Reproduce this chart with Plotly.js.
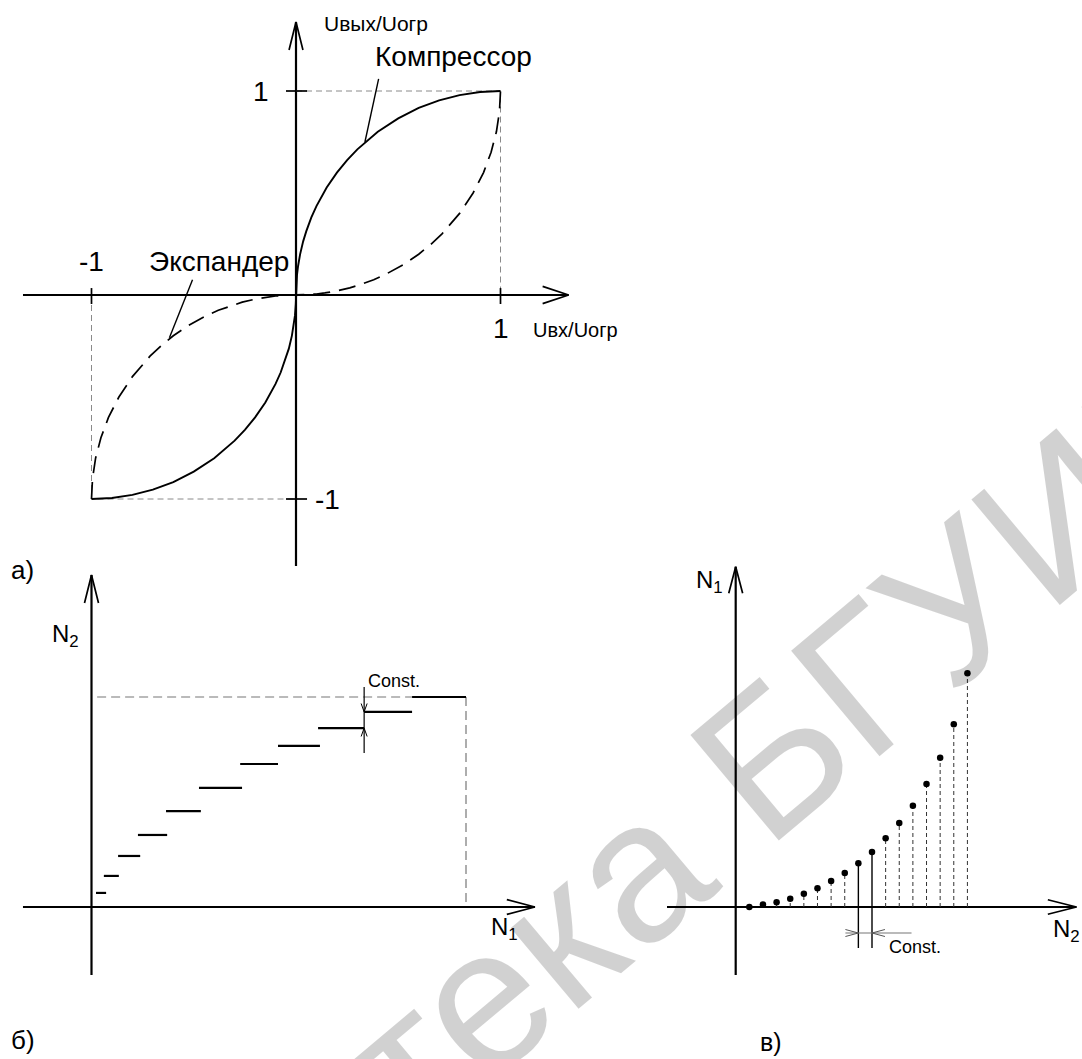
<!DOCTYPE html>
<html><head><meta charset="utf-8">
<script src="https://cdn.plot.ly/plotly-3.0.1.min.js"></script>
<style>html,body{margin:0;padding:0;background:#fff;}#chart{width:1082px;height:1059px;}</style>
</head><body><div id="chart"></div>
<script>
// ---------- DATA ----------
// Panel а: Компрессор (solid) and Экспандер (dashed), normalised Uвх/Uогр -> Uвых/Uогр
const compX = [-1, -0.9, -0.8, -0.7, -0.6, -0.5, -0.4, -0.3, -0.25, -0.2, -0.15, -0.1, -0.075, -0.05, -0.035, -0.02, -0.01, -0.005, -0.001, 0,
               0.001, 0.005, 0.01, 0.02, 0.035, 0.05, 0.075, 0.1, 0.15, 0.2, 0.25, 0.3, 0.4, 0.5, 0.6, 0.7, 0.8, 0.9, 1];
const compY = [-1, -0.995, -0.98, -0.954, -0.917, -0.866, -0.8, -0.714, -0.661, -0.6, -0.527, -0.436, -0.38, -0.312, -0.263, -0.199, -0.141, -0.1, -0.045, 0,
               0.045, 0.1, 0.141, 0.199, 0.263, 0.312, 0.38, 0.436, 0.527, 0.6, 0.661, 0.714, 0.8, 0.866, 0.917, 0.954, 0.98, 0.995, 1];
const expX = [-1, -0.995, -0.98, -0.954, -0.917, -0.866, -0.8, -0.714, -0.661, -0.6, -0.527, -0.436, -0.38, -0.312, -0.263, -0.199, -0.141, -0.1, -0.045, 0,
              0.045, 0.1, 0.141, 0.199, 0.263, 0.312, 0.38, 0.436, 0.527, 0.6, 0.661, 0.714, 0.8, 0.866, 0.917, 0.954, 0.98, 0.995, 1];
const expY = [-1, -0.9, -0.8, -0.7, -0.6, -0.5, -0.4, -0.3, -0.25, -0.2, -0.15, -0.1, -0.075, -0.05, -0.035, -0.02, -0.01, -0.005, -0.001, 0,
              0.001, 0.005, 0.01, 0.02, 0.035, 0.05, 0.075, 0.1, 0.15, 0.2, 0.25, 0.3, 0.4, 0.5, 0.6, 0.7, 0.8, 0.9, 1];
const limitA = 1;               // ±1 marks on both axes
const tickLabelsA = ['1', '-1'];

// Panel б: quantisation steps N2(N1)
const stepStart = [0.012, 0.033, 0.071, 0.124, 0.199, 0.287, 0.397, 0.498, 0.605, 0.728, 0.856];
const stepEnd   = [0.039, 0.073, 0.130, 0.202, 0.292, 0.402, 0.498, 0.610, 0.728, 0.856, 1.000];
const stepLevel = [0.067, 0.148, 0.243, 0.343, 0.457, 0.567, 0.681, 0.767, 0.852, 0.929, 1.000];

// Panel в: samples N1(N2)
const sampleN2 = [1, 2, 3, 4, 5, 6, 7, 8, 9, 10, 11, 12, 13, 14, 15, 16, 17];
const sampleN1 = [0, 0.25, 0.47, 0.83, 1.33, 1.87, 2.6, 3.4, 4.37, 5.5, 6.87, 8.4, 10.13, 12.3, 14.93, 18.27, 23.37];
const solidSamples = [9, 10];   // the two samples marked with "Const."

// ---------- helpers ----------
const W = 1082, H = 1059;
const FONT = 'Liberation Sans, Arial, Helvetica, sans-serif';
const traces = [];
function line(ax, xs, ys, color, width, dash) {
  traces.push({type: 'scatter', mode: 'lines', x: xs, y: ys, xaxis: 'x' + ax, yaxis: 'y' + ax,
    line: {color: color, width: width, dash: dash || 'solid'}, hoverinfo: 'skip', showlegend: false});
}
function arrowAxes(ax, g) {
  line(ax, [g.xMin, g.xTip], [0, 0], '#000', 2.2);
  line(ax, [g.xArm, g.xTip, g.xArm], [g.xSpread, 0, -g.xSpread], '#000', 1.7);
  line(ax, [0, 0], [g.yMin, g.yTip], '#000', 2.2);
  line(ax, [-g.ySpread, 0, g.ySpread], [g.yArm, g.yTip, g.yArm], '#000', 1.7);
}
function xAx(originPx, scale, anchor) {
  return {domain: [0, 1], range: [-originPx / scale, (W - originPx) / scale], visible: false, fixedrange: true, anchor: anchor};
}
function yAx(originPx, scale, anchor) {
  return {domain: [0, 1], range: [-(H - originPx) / scale, originPx / scale], visible: false, fixedrange: true, anchor: anchor};
}
const annotations = [];
function label(ax, x, y, text, size, xanchor) {
  annotations.push({xref: 'x' + ax, yref: 'y' + ax, x: x, y: y, text: text, showarrow: false,
    xanchor: xanchor || 'center', yanchor: 'middle', font: {family: FONT, size: size, color: '#000'}});
}

// watermark first (drawn under the labels; semi-transparent so black lines stay dark)
annotations.push({xref: 'paper', yref: 'paper', x: 0.49, y: 0.095, text: 'Библиотека БГУИР', showarrow: false,
  textangle: -40, xanchor: 'center', yanchor: 'middle', font: {family: FONT, size: 200, color: 'rgba(0,0,0,0.18)'}});

// ---------- panel а ----------
const A = '';
arrowAxes(A, {xMin: -1.335, xTip: 1.333, xArm: 1.206, xSpread: 0.042, yMin: -1.328, yTip: 1.338, yArm: 1.201, ySpread: 0.034});
line(A, [0, limitA, limitA], [limitA, limitA, 0], '#8a8a8a', 1, '6px,4px');
line(A, [-limitA, -limitA, 0], [0, -limitA, -limitA], '#8a8a8a', 1, '6px,4px');
line(A, [-0.049, 0.054], [limitA, limitA], '#000', 1.7);
line(A, [-0.049, 0.054], [-limitA, -limitA], '#000', 1.7);
line(A, [limitA, limitA], [0.034, -0.044], '#000', 1.7);
line(A, [-limitA, -limitA], [0.034, -0.044], '#000', 1.7);
line(A, compX, compY, '#000', 1.9);
line(A, expX, expY, '#000', 1.7, '17px,9px');
line(A, [0.404, 0.337], [1.059, 0.75], '#000', 1.4);
line(A, [-0.506, -0.619], [0.075, -0.21], '#000', 1.4);
label(A, -0.171, limitA, tickLabelsA[0], 28);
label(A, 0.152, -limitA, tickLabelsA[1], 28);
label(A, -limitA, 0.162, tickLabelsA[1], 28);
label(A, limitA, -0.162, tickLabelsA[0], 28);
label(A, 1.149, -0.172, 'Uвх/Uогр', 20, 'left');
label(A, 0.127, 1.333, 'Uвых/Uогр', 21, 'left');
label(A, 0.77, 1.167, 'Компрессор', 28);
label(A, -0.377, 0.162, 'Экспандер', 28);
label(A, -1.335, -1.348, 'а)', 26);

// ---------- panel б ----------
const B = '2';
arrowAxes(B, {xMin: -0.183, xTip: 1.184, xArm: 1.109, xSpread: 0.035, yMin: -0.324, yTip: 1.581, yArm: 1.448, ySpread: 0.0187});
const topLevel = stepLevel[stepLevel.length - 1];
const lastStart = stepStart[stepStart.length - 1], lastEnd = stepEnd[stepEnd.length - 1];
line(B, [0.015, lastStart], [topLevel, topLevel], '#777', 1.2, '9px,5px');
line(B, [lastEnd, lastEnd], [topLevel, 0], '#777', 1.2, '9px,5px');
const sx = [], sy = [];
stepStart.forEach((s, i) => { sx.push(s, stepEnd[i], null); sy.push(stepLevel[i], stepLevel[i], null); });
line(B, sx, sy, '#000', 2.2);
const cx = stepEnd[8];
line(B, [cx, cx], [1.048, 0.733], '#000', 1.2);
line(B, [cx - 0.008, cx, cx + 0.008], [stepLevel[9] + 0.04, stepLevel[9], stepLevel[9] + 0.04], '#000', 1);
line(B, [cx - 0.008, cx, cx + 0.008], [stepLevel[8] - 0.04, stepLevel[8], stepLevel[8] - 0.04], '#000', 1);
label(B, 0.733, 1.076, 'Const.', 18, 'left');
label(B, -0.069, 1.295, 'N<sub>2</sub>', 24);
label(B, 1.104, -0.1, 'N<sub>1</sub>', 24);
label(B, -0.182, -0.633, 'б)', 26);

// ---------- panel в ----------
const C = '3';
arrowAxes(C, {xMin: -5.04, xTip: 25.0, xArm: 22.9, xSpread: 0.73, yMin: -6.8, yTip: 34.03, yArm: 31.37, ySpread: 0.51});
const dx = [], dy = [], fx = [], fy = [];
sampleN2.forEach((n, i) => {
  if (solidSamples.indexOf(n) >= 0) { fx.push(n, n, null); fy.push(-4.1, sampleN1[i], null); }
  else { dx.push(n, n, null); dy.push(0, sampleN1[i], null); }
});
line(C, dx, dy, '#333', 1, '4px,3px');
line(C, fx, fy, '#000', 1.4);
traces.push({type: 'scatter', mode: 'markers', x: sampleN2, y: sampleN1, xaxis: 'x3', yaxis: 'y3',
  marker: {color: '#000', size: 6.5}, hoverinfo: 'skip', showlegend: false});
const c1 = solidSamples[0], c2 = solidSamples[1];
line(C, [c1 - 0.95, c2 + 2.9], [-2.6, -2.6], '#777', 1.2);
line(C, [c1 - 0.95, c1, c1 - 0.95], [-2.25, -2.6, -2.95], '#555', 1);
line(C, [c2 + 0.95, c2, c2 + 0.95], [-2.25, -2.6, -2.95], '#555', 1);
label(C, 11.1, -4.0, 'Const.', 18, 'left');
label(C, -1.89, 32.6, 'N<sub>1</sub>', 24);
label(C, 24.3, -2.3, 'N<sub>2</sub>', 24);
label(C, 2.59, -13.5, 'в)', 25);

const layout = {
  width: W, height: H, margin: {l: 0, r: 0, t: 0, b: 0}, paper_bgcolor: '#fff', plot_bgcolor: 'rgba(0,0,0,0)',
  showlegend: false,
  xaxis: xAx(296, 204.5, 'y'), yaxis: yAx(295, 204, 'x'),
  xaxis2: xAx(91.5, 374.5, 'y2'), yaxis2: yAx(907, 210, 'x2'),
  xaxis3: xAx(735.7, 13.63, 'y3'), yaxis3: yAx(907, 10, 'x3'),
  annotations: annotations
};
Plotly.newPlot('chart', traces, layout, {displayModeBar: false, staticPlot: true});
</script></body></html>
